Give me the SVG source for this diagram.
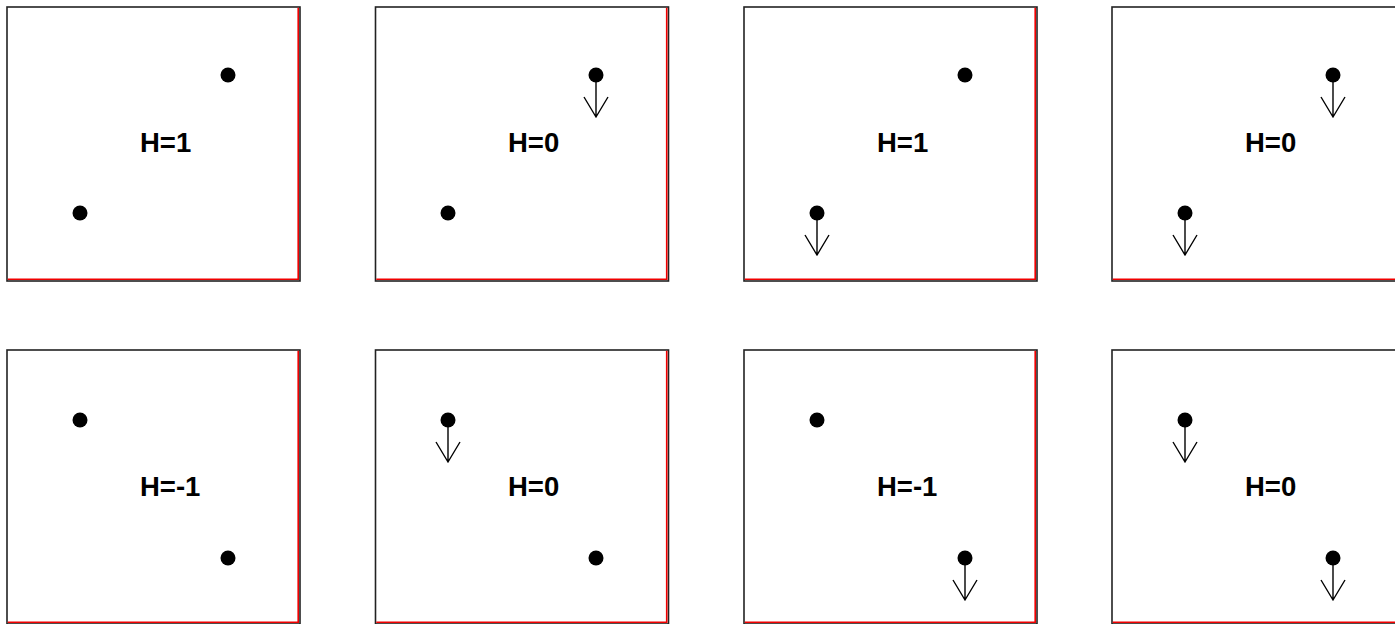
<svg xmlns="http://www.w3.org/2000/svg" xmlns:xlink="http://www.w3.org/1999/xlink" width="1395" height="624" viewBox="0 0 1395 624">
<style>
.frame{fill:#fff;stroke:#222;stroke-width:1.6}
.red{fill:none;stroke:#f00000;stroke-width:1.6}
.lbl{font-family:"Liberation Sans",Arial,sans-serif;font-weight:bold;font-size:27.5px;fill:#000}
.dot{fill:#000}
.arr{fill:none;stroke:#000;stroke-width:1.4}
</style>
<defs>
<g id="box">
<rect class="frame" x="0" y="0" width="293" height="274"/>
<polyline class="red" points="291.2,0.8 291.2,272.2 0.8,272.2"/>
</g>
<circle id="d" class="dot" r="7.5" cx="0" cy="0"/>
<g id="da">
<circle class="dot" r="7.5" cx="0" cy="0"/>
<path class="arr" d="M0,0 V42 M-12,22 L0,42 L12,22"/>
</g>
</defs>
<rect width="1395" height="624" fill="#fff"/>
<g id="panel-1-1">
<use xlink:href="#box" x="7" y="7"/>
<use xlink:href="#d" x="228" y="75"/>
<use xlink:href="#d" x="80" y="213"/>
<text class="lbl" x="140" y="151.5">H=1</text>
</g>
<g id="panel-1-2">
<use xlink:href="#box" x="375.5" y="7"/>
<use xlink:href="#da" x="596" y="75"/>
<use xlink:href="#d" x="448" y="213"/>
<text class="lbl" x="508" y="151.5">H=0</text>
</g>
<g id="panel-1-3">
<use xlink:href="#box" x="744" y="7"/>
<use xlink:href="#d" x="965" y="75"/>
<use xlink:href="#da" x="817" y="213"/>
<text class="lbl" x="877" y="151.5">H=1</text>
</g>
<g id="panel-1-4">
<use xlink:href="#box" x="1112" y="7"/>
<use xlink:href="#da" x="1333" y="75"/>
<use xlink:href="#da" x="1185" y="213"/>
<text class="lbl" x="1245" y="151.5">H=0</text>
</g>
<g id="panel-2-1">
<use xlink:href="#box" x="7" y="350"/>
<use xlink:href="#d" x="80" y="420"/>
<use xlink:href="#d" x="228" y="558"/>
<text class="lbl" x="140" y="495.5">H=-1</text>
</g>
<g id="panel-2-2">
<use xlink:href="#box" x="375.5" y="350"/>
<use xlink:href="#da" x="448" y="420"/>
<use xlink:href="#d" x="596" y="558"/>
<text class="lbl" x="508" y="495.5">H=0</text>
</g>
<g id="panel-2-3">
<use xlink:href="#box" x="744" y="350"/>
<use xlink:href="#d" x="817" y="420"/>
<use xlink:href="#da" x="965" y="558"/>
<text class="lbl" x="877" y="495.5">H=-1</text>
</g>
<g id="panel-2-4">
<use xlink:href="#box" x="1112" y="350"/>
<use xlink:href="#da" x="1185" y="420"/>
<use xlink:href="#da" x="1333" y="558"/>
<text class="lbl" x="1245" y="495.5">H=0</text>
</g>
<g id="connectors"/>
</svg>
